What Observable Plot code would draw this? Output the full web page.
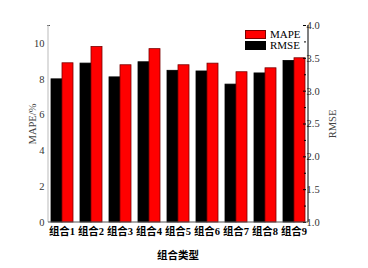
<!DOCTYPE html>
<html>
<head>
<meta charset="utf-8">
<script src="https://cdn.jsdelivr.net/npm/d3@7"></script>
<script src="https://cdn.jsdelivr.net/npm/@observablehq/plot@0.6"></script>
<style>
  body { margin: 0; background: #fff; }
  #wrap { position: relative; width: 368px; height: 268px; }
  .legend { position: absolute; font: 11px/11px "Liberation Serif", serif; color: #000; }
  .legend .row { display: flex; align-items: center; height: 11px; line-height: 11px; }
  .legend .sw { width: 21px; height: 9px; margin-right: 4px; box-sizing: border-box; }
</style>
</head>
<body>
<div id="wrap"></div>
<script>
const groups = ["组合1","组合2","组合3","组合4","组合5","组合6","组合7","组合8","组合9"];
const mape = [8.89, 9.80, 8.78, 9.68, 8.78, 8.87, 8.39, 8.61, 9.17];
const rmse = [3.18, 3.42, 3.21, 3.44, 3.31, 3.30, 3.10, 3.27, 3.46];
const series = ["RMSE", "MAPE"];
const leftTicks = [0, 2, 4, 6, 8, 10];
const rightTicks = [1.0, 1.5, 2.0, 2.5, 3.0, 3.5, 4.0];
const rightMinor = [1.25, 1.75, 2.25, 2.75, 3.25, 3.75];
const leftMax = 11;
const rMin = 1, rMax = 4;
const toLeft = r => (r - rMin) / (rMax - rMin) * leftMax;
const toRight = v => v / leftMax * (rMax - rMin) + rMin;

const data = [];
groups.forEach((g, i) => {
  data.push({group: g, series: "RMSE", value: toLeft(rmse[i])});
  data.push({group: g, series: "MAPE", value: mape[i]});
});

const W = 368, H = 268, mL = 48, mR = 60, mT = 25, mB = 46;
const serif = '"Liberation Serif", "Times New Roman", serif';
const cjk = '"Liberation Serif", "Noto Sans CJK SC", serif';

const plot = Plot.plot({
  width: W, height: H,
  marginLeft: mL, marginRight: mR, marginTop: mT, marginBottom: mB,
  style: {fontFamily: serif, fontSize: "10.5px", background: "#fff", overflow: "visible"},
  fx: {domain: groups, paddingInner: 0.2, paddingOuter: 0.05, label: null},
  x: {domain: series, padding: 0, axis: null},
  y: {domain: [0, leftMax]},
  marks: [
    Plot.barY(data, {fx: "group", x: "series", y: "value",
      fill: d => d.series === "MAPE" ? "#ff0000" : "#000000",
      stroke: d => d.series === "MAPE" ? "#7a0000" : "#000000",
      strokeWidth: 0.8}),
    Plot.axisY(leftTicks, {anchor: "left", tickSize: 0, tickPadding: 6, fill: "#333",
      label: "MAPE/%", labelArrow: "none", labelAnchor: "center", labelOffset: 22}),
    Plot.axisY([leftMax], {anchor: "left", tickSize: 3, tickFormat: () => "", label: null, stroke: "#555"}),
    Plot.axisY(rightTicks.map(toLeft), {anchor: "right", tickSize: -3, tickPadding: 4,
      tickFormat: d => toRight(d).toFixed(1), fill: "#333", stroke: "#000",
      label: "RMSE", labelArrow: "none", labelAnchor: "center", labelOffset: 30}),
    Plot.axisY(rightMinor.map(toLeft), {anchor: "right", tickSize: -2, tickFormat: () => "", label: null, stroke: "#000"}),
    Plot.axisFx({anchor: "bottom", tickSize: 0, tickPadding: 5, fontFamily: cjk, fontWeight: "bold",
      fontSize: "10.5px", fill: "#000", label: "组合类型", labelArrow: "none", labelAnchor: "center", labelOffset: 36})
  ]
});

const svg = d3.select(plot);
svg.append("line").attr("x1", mL).attr("x2", mL).attr("y1", mT).attr("y2", H - mB)
  .attr("stroke", "#bbb").attr("stroke-width", 1);
svg.append("line").attr("x1", W - mR).attr("x2", W - mR).attr("y1", mT).attr("y2", H - mB)
  .attr("stroke", "#000").attr("stroke-width", 1);
svg.append("line").attr("x1", mL).attr("x2", W - mR).attr("y1", H - mB).attr("y2", H - mB)
  .attr("stroke", "#555").attr("stroke-width", 1);
// strip any label arrows, style labels
svg.selectAll("text").each(function() {
  const t = this.textContent;
  if (/[↑↓→←]/.test(t)) this.textContent = t.replace(/\s*[↑↓→←]\s*/g, "");
});
svg.selectAll("[aria-label='fx-axis label'] text, [aria-label='fx-axis label']")
  .attr("font-family", cjk).attr("font-weight", "bold").attr("fill", "#000");
svg.selectAll("[aria-label='y-axis label'] text").attr("fill", "#444");

const wrap = document.getElementById("wrap");
wrap.appendChild(plot);

const legend = document.createElement("div");
legend.className = "legend";
legend.style.left = "245px";
legend.style.top = "29px";
legend.innerHTML = series.slice().reverse().map(s =>
  `<div class="row"><div class="sw" style="background:${s === "MAPE" ? "#ff0000" : "#000"};border:1px solid ${s === "MAPE" ? "#7a0000" : "#000"}"></div><span>${s}</span></div>`
).join("");
wrap.appendChild(legend);
</script>
</body>
</html>
